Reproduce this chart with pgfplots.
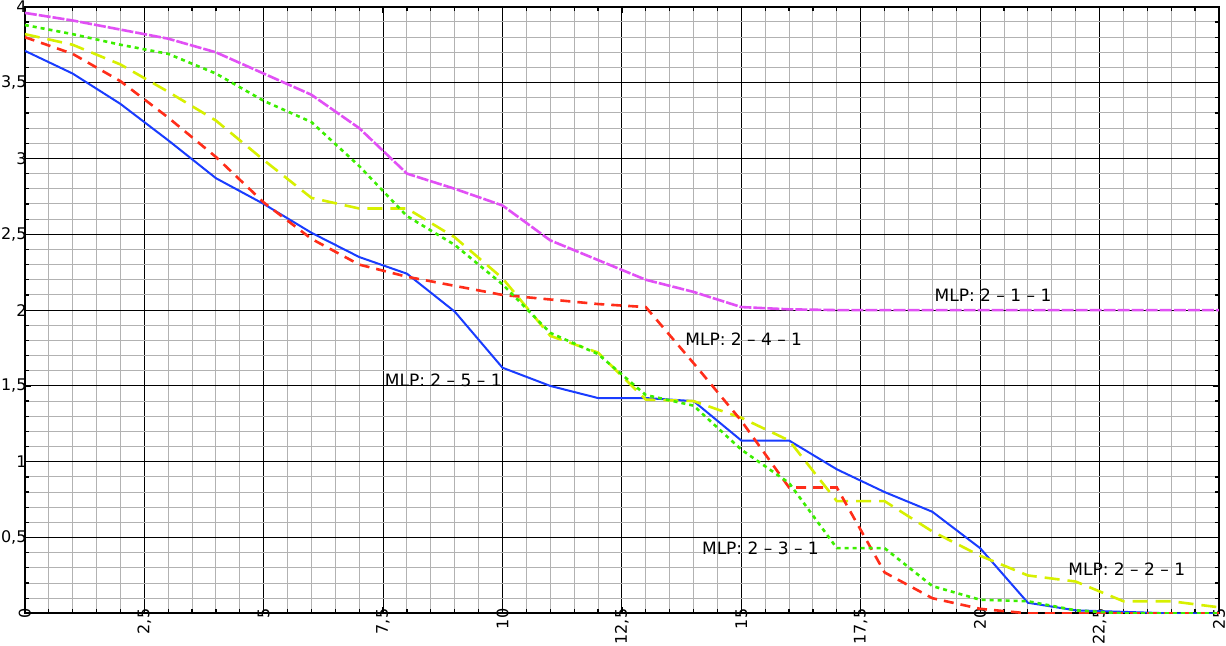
\documentclass[border=0pt]{standalone}
\usepackage{fontspec}
\setmainfont{DejaVu Sans}
\usepackage{pgfplots}
\pgfplotsset{compat=1.18}
\definecolor{cblue}{RGB}{25,60,255}
\definecolor{cred}{RGB}{255,45,25}
\definecolor{cgreen}{RGB}{60,238,0}
\definecolor{cyellow}{RGB}{215,240,0}
\definecolor{cmag}{RGB}{225,80,245}
\begin{document}
\begin{tikzpicture}
\begin{axis}[
  scale only axis, width=596.5pt, height=303pt,
  xmin=0, xmax=25, ymin=0, ymax=4,
  xtick={0,2.5,...,25}, ytick={0.5,1,...,4},
  minor xtick={0,0.5,...,25}, minor ytick={0,0.1,...,4},
  grid=both,
  major grid style={black, line width=0.5pt},
  minor grid style={gray!60, line width=0.5pt},
  tick align=inside, major tick length=3pt, minor tick length=2pt,
  tick style={black, line width=0.6pt},
  axis line style={black, line width=1pt},
  /pgf/number format/use comma,
  /pgf/number format/assume math mode=true,
  tick label style={font=\fontsize{8}{9}\selectfont},
  xticklabel style={yshift=3pt, rotate=90, anchor=east, inner sep=0.5pt},
  yticklabel style={anchor=east, inner sep=0.5pt, xshift=1.5pt},
]
\addplot[cblue, line width=1pt] coordinates {(0,3.71)(1,3.56)(2,3.36)(3,3.12)(4,2.87)(5,2.70)(6,2.51)(7,2.35)(8,2.24)(9,1.99)(10,1.62)(11,1.50)(12,1.42)(13,1.42)(14,1.40)(15,1.14)(16,1.14)(17,0.95)(18,0.80)(19,0.67)(20,0.43)(21,0.07)(22,0.02)(23,0.01)(24,0)(25,0)};
\addplot[cmag, line width=1.3pt, dash pattern=on 6pt off 1pt] coordinates {(0,3.96)(1,3.91)(2,3.85)(3,3.79)(4,3.70)(5,3.56)(6,3.42)(7,3.20)(8,2.90)(9,2.80)(10,2.69)(11,2.46)(12,2.33)(13,2.20)(14,2.12)(15,2.02)(16,2.005)(17,2.0)(18,2.0)(19,2.0)(20,2.0)(21,2.0)(22,2.0)(23,2.0)(24,2.0)(25,2.0)};
\addplot[cyellow, line width=1.3pt, dash pattern=on 7.5pt off 4pt] coordinates {(0,3.82)(1,3.75)(2,3.62)(3,3.44)(4,3.25)(5,2.99)(6,2.74)(7,2.67)(8,2.67)(9,2.48)(10,2.21)(11,1.83)(12,1.72)(13,1.41)(14,1.40)(15,1.29)(16,1.14)(17,0.74)(18,0.74)(19,0.54)(20,0.38)(21,0.25)(22,0.21)(23,0.08)(24,0.08)(25,0.04)};
\addplot[cred, line width=1.3pt, dash pattern=on 5pt off 3.5pt] coordinates {(0,3.80)(1,3.69)(2,3.51)(3,3.27)(4,3.01)(5,2.71)(6,2.47)(7,2.30)(8,2.22)(9,2.16)(10,2.10)(11,2.07)(12,2.04)(13,2.02)(14,1.65)(15,1.27)(16,0.83)(17,0.83)(18,0.27)(19,0.10)(20,0.03)(21,0)(22,0)(23,0)(24,0)(25,0)};
\addplot[cgreen, line width=1.3pt, dash pattern=on 2pt off 2pt] coordinates {(0,3.88)(1,3.82)(2,3.75)(3,3.69)(4,3.56)(5,3.38)(6,3.24)(7,2.95)(8,2.62)(9,2.43)(10,2.17)(11,1.85)(12,1.71)(13,1.44)(14,1.37)(15,1.08)(16,0.86)(17,0.43)(18,0.43)(19,0.18)(20,0.09)(21,0.08)(22,0.02)(23,0)(24,0)(25,0)};
\node[anchor=west, inner sep=0pt, font=\fontsize{8.5}{10}\selectfont] at (axis cs:19.04,2.10) {MLP: 2 – 1 – 1};
\node[anchor=west, inner sep=0pt, font=\fontsize{8.5}{10}\selectfont] at (axis cs:13.82,1.81) {MLP: 2 – 4 – 1};
\node[anchor=west, inner sep=0pt, font=\fontsize{8.5}{10}\selectfont] at (axis cs:7.53,1.54) {MLP: 2 – 5 – 1};
\node[anchor=west, inner sep=0pt, font=\fontsize{8.5}{10}\selectfont] at (axis cs:14.17,0.43) {MLP: 2 – 3 – 1};
\node[anchor=west, inner sep=0pt, font=\fontsize{8.5}{10}\selectfont] at (axis cs:21.84,0.29) {MLP: 2 – 2 – 1};
\end{axis}
\end{tikzpicture}
\end{document}
